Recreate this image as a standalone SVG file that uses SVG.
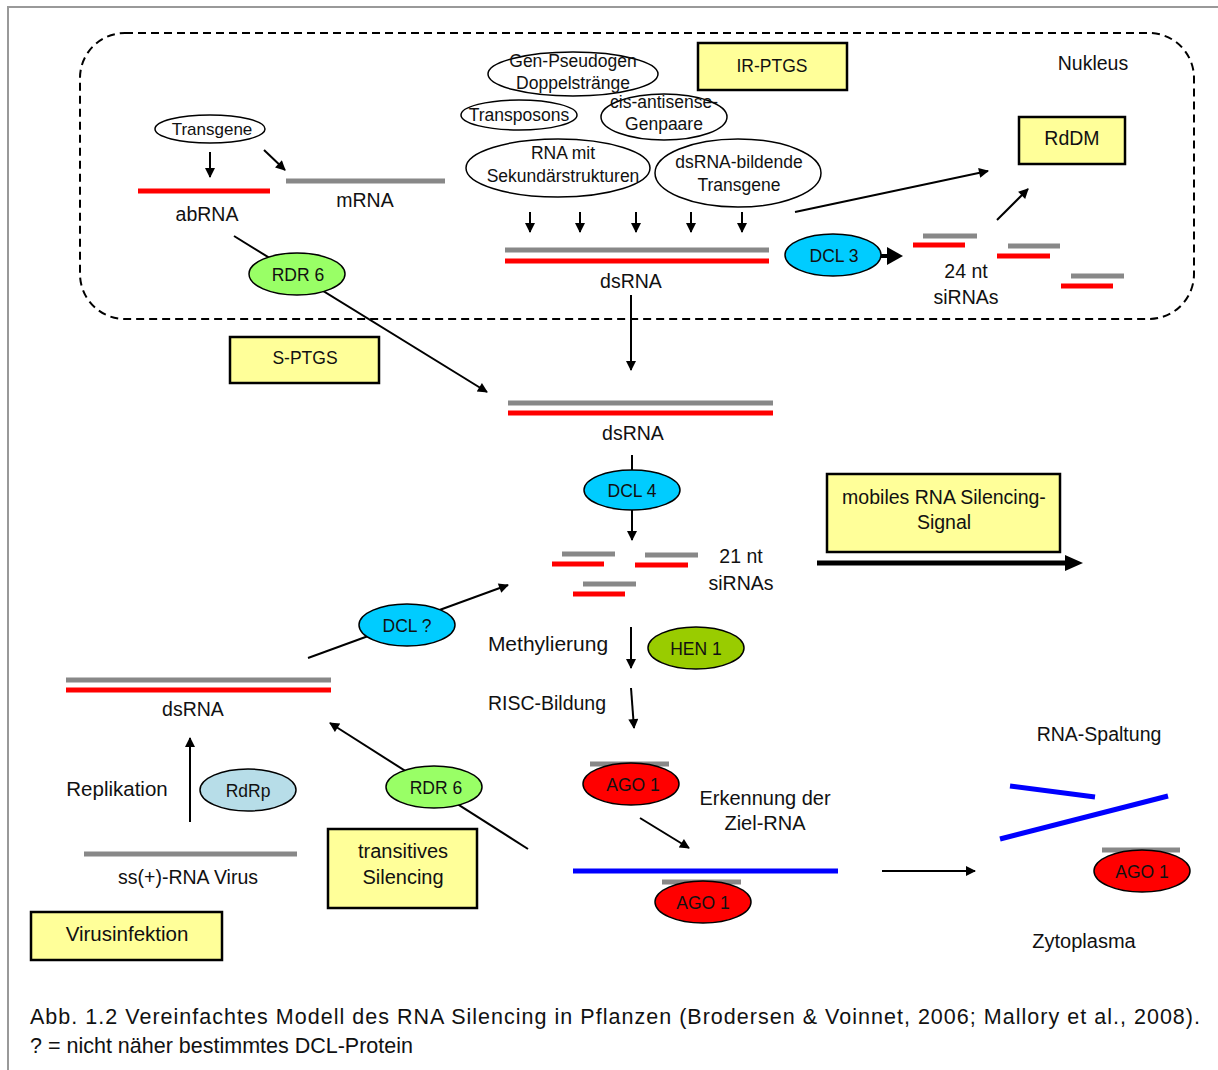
<svg xmlns="http://www.w3.org/2000/svg" width="1218" height="1070" viewBox="0 0 1218 1070">
<defs>
<marker id="ah" viewBox="0 0 10 10" refX="9" refY="5" markerWidth="6" markerHeight="5" orient="auto" markerUnits="strokeWidth"><path d="M0,0 L10,5 L0,10 z" fill="#000"/></marker>
</defs>
<style>
text{font-family:"Liberation Sans",Arial,sans-serif;fill:#111;text-anchor:middle}
.l{font-size:19.5px}
.e{font-size:17.5px}
.p{font-size:17.5px}
.box{fill:#FFFF99;stroke:#000;stroke-width:2.5}
.ell{fill:#fff;stroke:#000;stroke-width:1.5}
.prot{stroke:#000;stroke-width:1.5}
.gray{stroke:#888;stroke-width:5}
.red{stroke:#F00;stroke-width:5}
.blue{stroke:#00F;stroke-width:5}
.arr{stroke:#000;stroke-width:2;fill:none;marker-end:url(#ah)}
.cap{font-size:21.5px;text-anchor:start}
</style>
<rect width="1218" height="1070" fill="#fff"/>
<path d="M8,1070 V7 H1218" fill="none" stroke="#999" stroke-width="2"/>
<rect id="nucleus" x="80" y="33" width="1114" height="286" rx="45" fill="none" stroke="#000" stroke-width="2" stroke-dasharray="8,5"/>
<text class="l" x="1093" y="70">Nukleus</text>

<g id="connectors">
<line class="arr" x1="210" y1="152" x2="210" y2="177"/>
<line class="arr" x1="264" y1="150" x2="285" y2="170"/>
<line class="arr" x1="234" y1="236" x2="487" y2="392"/>
<line class="arr" x1="530" y1="212" x2="530" y2="232"/>
<line class="arr" x1="580" y1="212" x2="580" y2="232"/>
<line class="arr" x1="636" y1="212" x2="636" y2="232"/>
<line class="arr" x1="691" y1="212" x2="691" y2="232"/>
<line class="arr" x1="742" y1="212" x2="742" y2="232"/>
<line class="arr" x1="795" y1="212" x2="988" y2="171"/>
<line class="arr" x1="997" y1="220" x2="1028" y2="189"/>
<line x1="880" y1="256" x2="892" y2="256" stroke="#000" stroke-width="4"/>
<polygon points="887,247 903,256 887,265" fill="#000"/>
<line class="arr" x1="631" y1="295" x2="631" y2="370"/>
<line class="arr" x1="632" y1="455" x2="632" y2="540"/>
<line x1="817" y1="563" x2="1068" y2="563" stroke="#000" stroke-width="5"/>
<polygon points="1065,555 1083,563 1065,571" fill="#000"/>
<line class="arr" x1="308" y1="658" x2="508" y2="585"/>
<line class="arr" x1="631" y1="627" x2="631" y2="668"/>
<line class="arr" x1="631" y1="688" x2="634" y2="728"/>
<line class="arr" x1="640" y1="818" x2="689" y2="848"/>
<line class="arr" x1="882" y1="871" x2="975" y2="871"/>
<line class="arr" x1="190" y1="822" x2="190" y2="738"/>
<line class="arr" x1="528" y1="849" x2="330" y2="723"/>
</g>

<g id="ir-ptgs"><rect class="box" x="698" y="43" width="149" height="47"/><text class="p" x="772" y="72">IR-PTGS</text></g>
<g id="rddm"><rect class="box" x="1019" y="117" width="106" height="47"/><text class="l" x="1072" y="145">RdDM</text></g>
<g id="s-ptgs"><rect class="box" x="230" y="337" width="149" height="46"/><text class="p" x="305" y="364">S-PTGS</text></g>
<g id="mobile"><rect class="box" x="827" y="474" width="233" height="78"/><text class="l" x="944" y="504">mobiles RNA Silencing-</text><text class="l" x="944" y="529">Signal</text></g>
<g id="transitive"><rect class="box" x="328" y="829" width="149" height="79"/><text class="l" x="403" y="858" style="font-size:20px">transitives</text><text class="l" x="403" y="884" style="font-size:20px">Silencing</text></g>
<g id="virus"><rect class="box" x="31" y="912" width="191" height="48"/><text class="l" x="127" y="941" style="font-size:20.5px">Virusinfektion</text></g>

<g id="gen-pseudogen"><ellipse class="ell" cx="573" cy="74" rx="85" ry="22"/><text class="e" x="573" y="67">Gen-Pseudogen</text><text class="e" x="573" y="89">Doppelstränge</text></g>
<g id="transposons"><ellipse class="ell" cx="519" cy="115" rx="58" ry="15"/><text class="e" x="519" y="121">Transposons</text></g>
<g id="cis-antisense"><ellipse class="ell" cx="664" cy="117" rx="63" ry="23"/><text class="e" x="664" y="108">cis-antisense-</text><text class="e" x="664" y="130">Genpaare</text></g>
<g id="rna-mit"><ellipse class="ell" cx="558" cy="168" rx="92" ry="29"/><text class="e" x="563" y="159">RNA mit</text><text class="e" x="563" y="182">Sekundärstrukturen</text></g>
<g id="dsrna-bildende"><ellipse class="ell" cx="738" cy="173" rx="83" ry="34"/><text class="e" x="739" y="168">dsRNA-bildende</text><text class="e" x="739" y="191">Transgene</text></g>
<g id="transgene"><ellipse class="ell" cx="210" cy="129" rx="55" ry="14"/><text class="e" x="212" y="135" style="font-size:17px">Transgene</text></g>

<g id="abrna"><line class="red" x1="138" y1="191" x2="270" y2="191"/><text class="l" x="207" y="221">abRNA</text></g>
<g id="mrna"><line class="gray" x1="286" y1="181" x2="445" y2="181"/><text class="l" x="365" y="207">mRNA</text></g>
<g id="rdr6-top"><ellipse class="prot" cx="297" cy="274" rx="48" ry="21" fill="#99FF66"/><text class="p" x="298" y="281">RDR 6</text></g>
<g id="dsrna-nuc"><line class="gray" x1="505" y1="250" x2="769" y2="250"/><line class="red" x1="505" y1="261" x2="769" y2="261"/><text class="l" x="631" y="288">dsRNA</text></g>
<g id="dcl3"><ellipse class="prot" cx="833" cy="255" rx="48" ry="21" fill="#00CCFF"/><text class="p" x="834" y="262">DCL 3</text></g>
<g id="sirna24">
<line class="gray" x1="923" y1="236" x2="977" y2="236"/><line class="red" x1="913" y1="245" x2="965" y2="245"/>
<line class="gray" x1="1008" y1="246" x2="1060" y2="246"/><line class="red" x1="997" y1="256" x2="1050" y2="256"/>
<line class="gray" x1="1071" y1="276" x2="1124" y2="276"/><line class="red" x1="1061" y1="286" x2="1113" y2="286"/>
<text class="l" x="966" y="278">24 nt</text><text class="l" x="966" y="304">siRNAs</text></g>

<g id="dsrna-mid"><line class="gray" x1="508" y1="403" x2="773" y2="403"/><line class="red" x1="508" y1="413" x2="773" y2="413"/><text class="l" x="633" y="440">dsRNA</text></g>
<g id="dcl4"><ellipse class="prot" cx="632" cy="490" rx="48" ry="20" fill="#00CCFF"/><text class="p" x="632" y="497">DCL 4</text></g>
<g id="sirna21">
<line class="gray" x1="562" y1="554" x2="615" y2="554"/><line class="red" x1="552" y1="564" x2="604" y2="564"/>
<line class="gray" x1="645" y1="555" x2="698" y2="555"/><line class="red" x1="635" y1="565" x2="688" y2="565"/>
<line class="gray" x1="583" y1="584" x2="636" y2="584"/><line class="red" x1="573" y1="594" x2="625" y2="594"/>
<text class="l" x="741" y="563">21 nt</text><text class="l" x="741" y="590">siRNAs</text></g>

<g id="dcl-q"><ellipse class="prot" cx="407" cy="625" rx="48" ry="21" fill="#00CCFF"/><text class="p" x="407" y="632">DCL ?</text></g>
<text class="l" x="548" y="651" style="font-size:21px">Methylierung</text>
<g id="hen1"><ellipse class="prot" cx="696" cy="648" rx="48" ry="21" fill="#99CC00"/><text class="p" x="696" y="655">HEN 1</text></g>
<text class="l" x="547" y="710">RISC-Bildung</text>
<g id="ago1-a"><line class="gray" x1="590" y1="764" x2="669" y2="764"/><ellipse class="prot" cx="631" cy="784" rx="48" ry="21" fill="#FF0000"/><text class="p" x="633" y="791">AGO 1</text></g>
<text class="l" x="765" y="805" style="font-size:20px">Erkennung der</text><text class="l" x="765" y="830" style="font-size:20px">Ziel-RNA</text>
<g id="target"><line class="blue" x1="573" y1="871" x2="838" y2="871"/></g>
<g id="ago1-b"><line class="gray" x1="662" y1="882" x2="741" y2="882"/><ellipse class="prot" cx="703" cy="902" rx="48" ry="21" fill="#FF0000"/><text class="p" x="703" y="909">AGO 1</text></g>
<text class="l" x="1099" y="741">RNA-Spaltung</text>
<g id="cleaved"><line class="blue" x1="1010" y1="786" x2="1095" y2="797"/><line class="blue" x1="1000" y1="839" x2="1168" y2="796"/></g>
<g id="ago1-c"><line class="gray" x1="1102" y1="850" x2="1180" y2="850"/><ellipse class="prot" cx="1142" cy="871" rx="48" ry="21" fill="#FF0000"/><text class="p" x="1142" y="878">AGO 1</text></g>
<text class="l" x="1084" y="948" style="font-size:20px">Zytoplasma</text>

<g id="dsrna-left"><line class="gray" x1="66" y1="680" x2="331" y2="680"/><line class="red" x1="66" y1="690" x2="331" y2="690"/><text class="l" x="193" y="716">dsRNA</text></g>
<text class="l" x="117" y="796" style="font-size:20.5px">Replikation</text>
<g id="rdrp"><ellipse class="prot" cx="248" cy="790" rx="48" ry="21" fill="#B7DDE8"/><text class="p" x="248" y="797">RdRp</text></g>
<g id="virus-rna"><line class="gray" x1="84" y1="854" x2="297" y2="854"/><text class="l" x="188" y="884">ss(+)-RNA Virus</text></g>
<g id="rdr6-bottom"><ellipse class="prot" cx="434" cy="787" rx="48" ry="21" fill="#99FF66"/><text class="p" x="436" y="794">RDR 6</text></g>

<text class="cap" x="30" y="1024" textLength="1170" lengthAdjust="spacing">Abb. 1.2 Vereinfachtes Modell des RNA Silencing in Pflanzen (Brodersen &amp; Voinnet, 2006; Mallory et al., 2008).</text>
<text class="cap" x="30" y="1053">? = nicht näher bestimmtes DCL-Protein</text>
</svg>
